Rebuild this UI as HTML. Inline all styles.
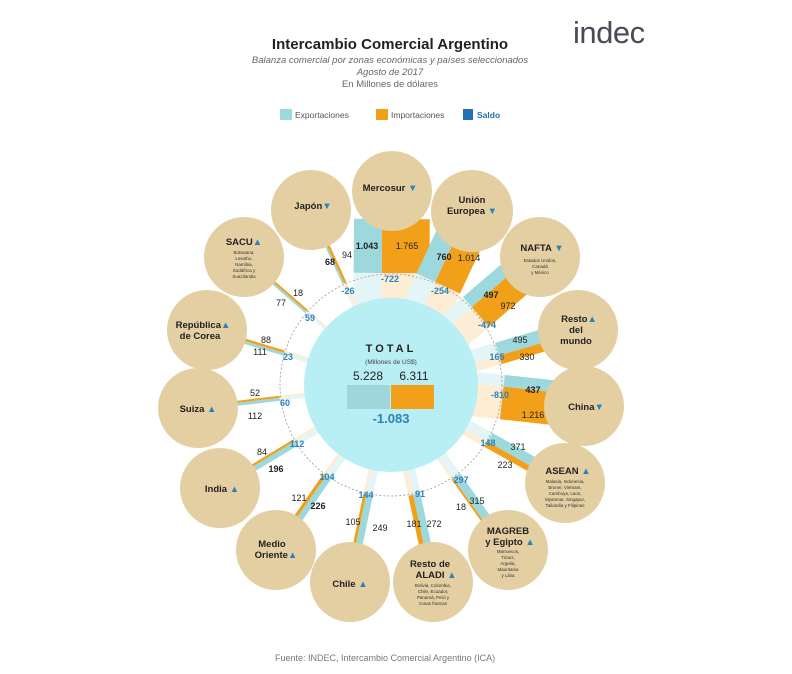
<!DOCTYPE html>
<html><head><meta charset="utf-8"><style>
body{margin:0;background:#fff;}
svg{display:block;font-family:"Liberation Sans",sans-serif;}
.n{font-size:9px;fill:#222;text-anchor:middle;}
.s{font-size:9px;fill:#2a82bd;font-weight:bold;text-anchor:middle;}
.c{font-size:9.5px;font-weight:bold;fill:#222;text-anchor:middle;}
.d{font-size:4.5px;fill:#333;text-anchor:middle;}
.t{fill:#2a82bd;}
</style></head><body>
<svg id="sv" width="792" height="674" viewBox="0 0 792 674" xmlns="http://www.w3.org/2000/svg">
<rect width="792" height="674" fill="#fff"/>
<g id="bars"></g>
<circle cx="391" cy="385" r="87" fill="#b8eff4"/>
<circle cx="391" cy="385" r="111" fill="none" stroke="#999" stroke-width="0.8" stroke-dasharray="2,2"/>
<g fill="#e3cfa2">
<circle cx="392" cy="191" r="40"/><circle cx="472" cy="211" r="41"/><circle cx="311" cy="210" r="40"/>
<circle cx="540" cy="257" r="40"/><circle cx="244" cy="257" r="40"/><circle cx="578" cy="330" r="40"/>
<circle cx="207" cy="330" r="40"/><circle cx="198" cy="408" r="40"/><circle cx="584" cy="406" r="40"/>
<circle cx="565" cy="483" r="40"/><circle cx="220" cy="488" r="40"/><circle cx="276" cy="550" r="40"/>
<circle cx="350" cy="582" r="40"/><circle cx="433" cy="582" r="40"/><circle cx="508" cy="550" r="40"/>
</g>
<text x="390" y="49" text-anchor="middle" font-size="15" font-weight="bold" fill="#222">Intercambio Comercial Argentino</text>
<g font-size="9.5" fill="#666" text-anchor="middle" font-style="italic">
<text x="390" y="63">Balanza comercial por zonas económicas y países seleccionados</text>
<text x="390" y="75">Agosto de 2017</text></g>
<text x="390" y="87" font-size="9.5" fill="#666" text-anchor="middle">En Millones de dólares</text>
<rect x="280" y="109" width="12" height="11" fill="#9dd8dc"/><text x="295" y="118" font-size="8.5" fill="#555">Exportaciones</text>
<rect x="376" y="109" width="12" height="11" fill="#f2a01a"/><text x="391" y="118" font-size="8.5" fill="#555">Importaciones</text>
<rect x="463" y="109" width="10" height="11" fill="#1f72b5"/><text x="477" y="118" font-size="8.5" font-weight="bold" fill="#1f72b5">Saldo</text>
<text x="573" y="43" font-size="31" fill="#4e4956" letter-spacing="-0.5">indec</text>
<text x="275" y="661" font-size="9" fill="#777">Fuente: INDEC, Intercambio Comercial Argentino (ICA)</text>
<text x="391" y="352" text-anchor="middle" font-size="11" font-weight="bold" letter-spacing="3" fill="#222">TOTAL</text>
<text x="391" y="364" text-anchor="middle" font-size="6.5" fill="#444">(Millones de US$)</text>
<text x="368" y="380" text-anchor="middle" font-size="12" fill="#222">5.228</text>
<text x="414" y="380" text-anchor="middle" font-size="12" fill="#222">6.311</text>
<rect x="347" y="385" width="43" height="24" fill="#9fd6dc"/><rect x="391" y="385" width="43" height="24" fill="#f2a01a"/>
<text x="391" y="423" text-anchor="middle" font-size="13" font-weight="bold" fill="#2a82bd">-1.083</text>
<text class="n" x="367" y="249" font-weight="bold">1.043</text><text class="n" x="407" y="249">1.765</text><text class="s" x="390" y="282">-722</text>
<text class="n" x="444" y="260" font-weight="bold">760</text><text class="n" x="469" y="261">1.014</text><text class="s" x="440" y="294">-254</text>
<text class="n" x="491" y="298" font-weight="bold">497</text><text class="n" x="508" y="309">972</text><text class="s" x="487" y="328">-474</text>
<text class="n" x="520" y="343">495</text><text class="n" x="527" y="360">330</text><text class="s" x="497" y="360">165</text>
<text class="n" x="533" y="393" font-weight="bold">437</text><text class="n" x="533" y="418">1.216</text><text class="s" x="500" y="398">-810</text>
<text class="n" x="518" y="450">371</text><text class="n" x="505" y="468">223</text><text class="s" x="488" y="446">148</text>
<text class="n" x="477" y="504">315</text><text class="n" x="461" y="510">18</text><text class="s" x="461" y="483">297</text>
<text class="n" x="434" y="527">272</text><text class="n" x="414" y="527">181</text><text class="s" x="420" y="497">91</text>
<text class="n" x="380" y="531">249</text><text class="n" x="353" y="525">105</text><text class="s" x="366" y="498">144</text>
<text class="n" x="318" y="509" font-weight="bold">226</text><text class="n" x="299" y="501">121</text><text class="s" x="327" y="480">104</text>
<text class="n" x="276" y="472" font-weight="bold">196</text><text class="n" x="262" y="455">84</text><text class="s" x="297" y="447">112</text>
<text class="n" x="255" y="396">52</text><text class="n" x="255" y="419">112</text><text class="s" x="285" y="406">60</text>
<text class="n" x="266" y="343">88</text><text class="n" x="260" y="355">111</text><text class="s" x="288" y="360">23</text>
<text class="n" x="298" y="296">18</text><text class="n" x="281" y="306">77</text><text class="s" x="310" y="321">59</text>
<text class="n" x="330" y="265" font-weight="bold">68</text><text class="n" x="347" y="258">94</text><text class="s" x="348" y="294">-26</text>
<text class="c" x="390" y="191">Mercosur <tspan class="t">▼</tspan></text>
<text class="c" x="472" y="203">Unión</text><text class="c" x="472" y="214">Europea <tspan class="t">▼</tspan></text>
<text class="c" x="313" y="209">Japón<tspan class="t">▼</tspan></text>
<text class="c" x="542" y="251">NAFTA <tspan class="t">▼</tspan></text>
<text class="d" x="540" y="262">Estados Unidos,</text><text class="d" x="540" y="268">Canadá</text><text class="d" x="540" y="274">y México</text>
<text class="c" x="244" y="245">SACU<tspan class="t">▲</tspan></text>
<text class="d" x="244" y="254">Botswana,</text><text class="d" x="244" y="260">Lesotho,</text><text class="d" x="244" y="266">Namibia,</text><text class="d" x="244" y="272">Sudáfrica y</text><text class="d" x="244" y="278">Suazilandia</text>
<text class="c" x="579" y="322">Resto<tspan class="t">▲</tspan></text><text class="c" x="576" y="333">del</text><text class="c" x="576" y="344">mundo</text>
<text class="c" x="203" y="328">República<tspan class="t">▲</tspan></text><text class="c" x="200" y="339">de Corea</text>
<text class="c" x="198" y="412">Suiza <tspan class="t">▲</tspan></text>
<text class="c" x="586" y="410">China<tspan class="t">▼</tspan></text>
<text class="c" x="568" y="474">ASEAN <tspan class="t">▲</tspan></text>
<text class="d" x="565" y="483">Malasia, Indonesia,</text><text class="d" x="565" y="489">Brunei, Vietnam,</text><text class="d" x="565" y="495">Camboya, Laos,</text><text class="d" x="565" y="501">Myanmar, Singapur,</text><text class="d" x="565" y="507">Tailandia y Filipinas</text>
<text class="c" x="222" y="492">India <tspan class="t">▲</tspan></text>
<text class="c" x="272" y="547">Medio</text><text class="c" x="276" y="558">Oriente<tspan class="t">▲</tspan></text>
<text class="c" x="350" y="587">Chile <tspan class="t">▲</tspan></text>
<text class="c" x="430" y="567">Resto de</text><text class="c" x="436" y="578">ALADI <tspan class="t">▲</tspan></text>
<text class="d" x="433" y="587">Bolivia, Colombia,</text><text class="d" x="433" y="593">Chile, Ecuador,</text><text class="d" x="433" y="599">Panamá, Perú y</text><text class="d" x="433" y="605">zonas francas</text>
<text class="c" x="508" y="534">MAGREB</text><text class="c" x="510" y="545">y Egipto <tspan class="t">▲</tspan></text>
<text class="d" x="508" y="553">Marruecos,</text><text class="d" x="508" y="559">Túnez,</text><text class="d" x="508" y="565">Argelia,</text><text class="d" x="508" y="571">Mauritania</text><text class="d" x="508" y="577">y Libia</text>
</svg>
<script>
var C=[391,385];
var D=[[392,191,1043,1765],[472,211,760,1014],[540,257,497,972],[578,330,495,330],[584,406,437,1216],[565,483,371,223],[508,550,315,18],[433,582,272,181],[350,582,249,105],[276,550,226,121],[220,488,196,84],[198,408,112,52],[207,330,111,88],[244,257,77,18],[311,210,68,94]];
var g=document.getElementById('bars'),h='';
D.forEach(function(d){var dx=d[0]-C[0],dy=d[1]-C[1],dist=Math.sqrt(dx*dx+dy*dy),a=Math.atan2(dy,dx)*180/Math.PI;
var we=Math.max(2,d[2]*0.027),wi=Math.max(2,d[3]*0.027),y0=-(we+wi)/2,ym=y0+we;
h+='<g transform="translate('+C[0]+','+C[1]+') rotate('+a+')">';
h+='<rect x="80" y="'+y0+'" width="32" height="'+we+'" fill="#e4f5f7"/>';
h+='<rect x="80" y="'+ym+'" width="32" height="'+wi+'" fill="#fcedd4"/>';
h+='<rect x="112" y="'+y0+'" width="'+(dist-140)+'" height="'+we+'" fill="#9dd8dc"/>';
h+='<rect x="112" y="'+ym+'" width="'+(dist-140)+'" height="'+wi+'" fill="#f2a01a"/>';
h+='</g>';});
g.innerHTML=h;
</script>
</body></html>
